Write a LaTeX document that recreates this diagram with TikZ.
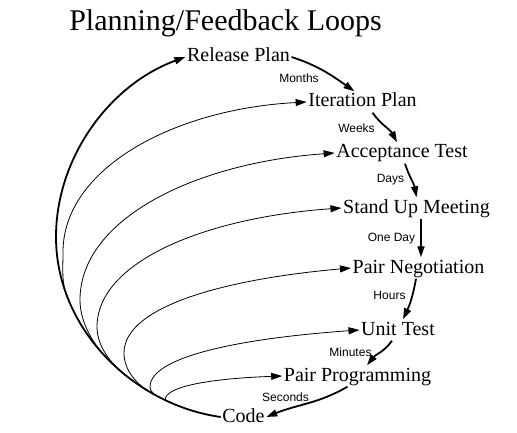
\documentclass[tikz,border=0pt]{standalone}
\usepackage{fontspec}
\setmainfont{Liberation Serif}
\setsansfont{Liberation Sans}
\usetikzlibrary{arrows.meta}
\usetikzlibrary{positioning}

\begin{document}
\begin{tikzpicture}[
    x=1pt, y=1pt,
    stage/.style={
        inner sep=1.5pt,
        font=\fontsize{20}{24}\selectfont,
        text height=14pt, text depth=4pt,
        anchor=base
    },
    period/.style={font=\sffamily\fontsize{12}{14}\selectfont},
    cadence/.style={-{Triangle[length=11pt,width=7pt]}, line width=1.8pt},
    feedback/.style={-{Triangle[length=11pt,width=7pt]}, line width=0.8pt}
]
\useasboundingbox (0,0) rectangle (517,432);
\node[font=\fontsize{30}{36}\selectfont, anchor=base] (title) at (225.5,401) {Planning/Feedback Loops};
\node[stage] (release) at (238.5,370) {Release Plan};
\node[stage] (iteration) at (362.5,325) {Iteration Plan};
\node[stage] (acceptance) at (402,274) {Acceptance Test};
\node[stage] (standup) at (416.5,219) {Stand Up Meeting};
\node[stage] (pairneg) at (418.5,159) {Pair Negotiation};
\node[stage] (unittest) at (398,97) {Unit Test};
\node[stage] (pairprog) at (357.5,51) {Pair Programming};
\node[stage] (code) at (243.5,10) {Code};
\node[period] (months) at (299,354) {Months};
\node[period] (weeks) at (356.5,304) {Weeks};
\node[period] (days) at (390.5,252) {Days};
\node[period] (oneday) at (391.5,193) {One Day};
\node[period] (hours) at (389.5,137) {Hours};
\node[period] (minutes) at (350.5,80) {Minutes};
\node[period] (seconds) at (285.5,35) {Seconds};
% left-most points of the loops
\coordinate (bulge) at (56,195);
\coordinate (turn1) at (63,180);
\coordinate (turn2) at (80,132);
\coordinate (turn3) at (97,105);
\coordinate (turn4) at (124,79);
\coordinate (turn5) at (150,45);
% short loops, one level to the next
\draw[cadence] (release.east) to[out=-18, in=145] ([xshift=-8pt]iteration.north);
\draw[cadence] ([xshift=10pt]iteration.south) to[out=-55, in=118] ([xshift=-5pt]acceptance.north);
\draw[cadence] ([xshift=3pt]acceptance.south) to[out=-72, in=100] (standup.north);
\draw[cadence] ([xshift=4.5pt]standup.south) -- ([xshift=2.5pt]pairneg.north);
\draw[cadence] ([xshift=-2.5pt]pairneg.south) to[out=-100, in=65] ([xshift=5pt]unittest.north);
\draw[cadence] ([xshift=-6pt]unittest.south) to[out=-125, in=52] ([xshift=9.5pt]pairprog.north);
\draw[cadence] ([xshift=-10pt]pairprog.south) to[out=-150, in=22] (code.east);
% long loop from code, the others branch off it
\draw[cadence] (code.west) .. controls +(172:88) and +(-90:92) .. (bulge)
        coordinate[pos=0.77] (peel1) coordinate[pos=0.47] (peel2)
        coordinate[pos=0.36] (peel3) coordinate[pos=0.27] (peel4)
        coordinate[pos=0.24] (peel5) coordinate[pos=0.22] (peel6)
    .. controls +(90:80) and +(200:80) .. (release.west);
\draw[feedback] (peel1) .. controls +(113:16) and +(-90:18) .. (turn1)
    .. controls +(90:83) and +(183:134) .. (iteration.west);
\draw[feedback] (peel2) .. controls +(137:22) and +(-90:24) .. (turn2)
    .. controls +(90:81) and +(184:140) .. (acceptance.west);
\draw[feedback] (peel3) .. controls +(146:22) and +(-90:22) .. (turn3)
    .. controls +(90:66) and +(184:135) .. (standup.west);
\draw[feedback] (peel4) .. controls +(152:18) and +(-90:18) .. (turn4)
    .. controls +(90:47) and +(185:125) .. (pairneg.west);
\draw[feedback] (peel5) .. controls +(154:6) and +(-90:5) .. (turn5)
    .. controls +(90:31) and +(184:116) .. (unittest.west);
\draw[feedback] (peel6) .. controls +(95:14) and +(182:70) .. (pairprog.west);
\end{tikzpicture}
\end{document}
